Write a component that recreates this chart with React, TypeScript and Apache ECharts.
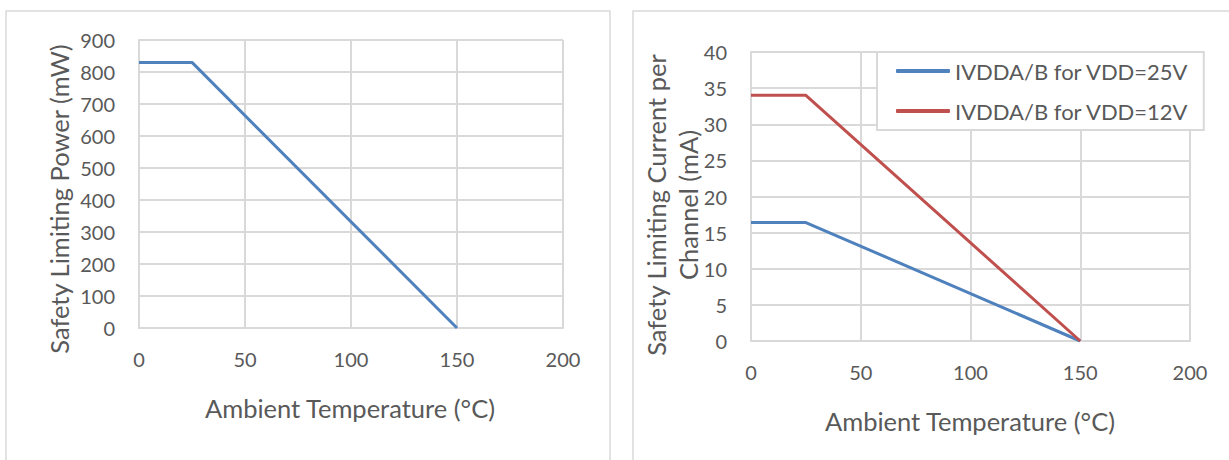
import React, { useEffect, useRef } from "react";
import * as echarts from "echarts";

const tempC = [0, 25, 150];
const powerMW = [830, 830, 0];
const current25V = [16.4, 16.4, 0];
const current12V = [34, 34, 0];
const seriesNames = ["IVDDA/B for VDD=25V", "IVDDA/B for VDD=12V"];
const xTitle = "Ambient Temperature (°C)";
const yTitleLeft = "Safety Limiting Power (mW)";
const yTitleRight1 = "Safety Limiting Current per";
const yTitleRight2 = "Channel (mA)";

const FONT = "Lato";
const TXT = "#595959";
const GRID = "#d9d9d9";
const BLUE = "#4F81BD";
const RED = "#C0504D";

const zip = (xs: number[], ys: number[]) => xs.map((x, i) => [x, ys[i]]);

export default function App() {
  const ref = useRef<HTMLDivElement>(null);
  useEffect(() => {
    if (!ref.current) return;
    const chart = echarts.init(ref.current, undefined, { renderer: "svg" });
    const axisLabel = { color: TXT, fontFamily: FONT, fontSize: 20 };
    const xAxisBase = (gridIndex: number) => ({
      type: "value",
      gridIndex,
      min: 0,
      max: 200,
      interval: 50,
      axisLine: { show: true, lineStyle: { color: GRID, width: 2 } },
      axisTick: { show: false },
      axisLabel: { ...axisLabel, margin: 21 },
      splitLine: { show: true, lineStyle: { color: GRID, width: 2 } },
    });
    const yAxisBase = (gridIndex: number, max: number, interval: number) => ({
      type: "value",
      gridIndex,
      min: 0,
      max,
      interval,
      axisLine: { show: true, lineStyle: { color: GRID, width: 2 } },
      axisTick: { show: false },
      axisLabel: { ...axisLabel, margin: 24 },
      splitLine: { show: true, lineStyle: { color: GRID, width: 2 } },
    });
    const titleText = (x: number, y: number, text: string, rot = 0) => ({
      type: "text",
      x,
      y,
      rotation: rot,
      style: {
        text,
        fill: TXT,
        fontFamily: FONT,
        fontSize: 25.5,
        textAlign: "center",
        textVerticalAlign: "middle",
        align: "center",
        verticalAlign: "middle",
      },
    });
    chart.setOption({
      animation: false,
      backgroundColor: "#fff",
      grid: [
        { left: 139, right: 1229 - 563, top: 40, bottom: 460 - 328 },
        { left: 751, right: 1229 - 1190, top: 52, bottom: 460 - 341 },
      ],
      xAxis: [xAxisBase(0), xAxisBase(1)],
      yAxis: [yAxisBase(0, 900, 100), yAxisBase(1, 40, 5)],
      legend: {
        data: seriesNames,
        orient: "vertical",
        left: 877,
        top: 52,
        backgroundColor: "#fff",
        borderColor: GRID,
        borderWidth: 2,
        padding: [7, 15, 7, 19],
        itemWidth: 54,
        itemHeight: 4,
        itemGap: 16,
        icon: "roundRect",
        textStyle: { color: TXT, fontFamily: FONT, fontSize: 22, lineHeight: 24 },
      },
      graphic: [
        { type: "rect", shape: { x: 6, y: 11, width: 604, height: 470 }, style: { fill: "none", stroke: GRID, lineWidth: 1.5 }, silent: true },
        { type: "rect", shape: { x: 633, y: 11, width: 620, height: 470 }, style: { fill: "none", stroke: GRID, lineWidth: 1.5 }, silent: true },
        titleText(350, 408, xTitle),
        titleText(970, 421, xTitle),
        titleText(59, 199, yTitleLeft, Math.PI / 2),
        titleText(656, 205, yTitleRight1, Math.PI / 2),
        titleText(688, 205, yTitleRight2, Math.PI / 2),
      ],
      series: [
        {
          type: "line",
          xAxisIndex: 0,
          yAxisIndex: 0,
          data: zip(tempC, powerMW),
          symbol: "none",
          lineStyle: { color: BLUE, width: 3 },
          itemStyle: { color: BLUE },
        },
        {
          name: seriesNames[0],
          type: "line",
          xAxisIndex: 1,
          yAxisIndex: 1,
          data: zip(tempC, current25V),
          symbol: "none",
          lineStyle: { color: BLUE, width: 3 },
          itemStyle: { color: BLUE },
        },
        {
          name: seriesNames[1],
          type: "line",
          xAxisIndex: 1,
          yAxisIndex: 1,
          data: zip(tempC, current12V),
          symbol: "none",
          lineStyle: { color: RED, width: 3 },
          itemStyle: { color: RED },
        },
      ],
    });
    return () => chart.dispose();
  }, []);
  return (
    <div
      ref={ref}
      style={{ position: "fixed", left: 0, top: 0, width: 1229, height: 460, background: "#fff" }}
    />
  );
}
